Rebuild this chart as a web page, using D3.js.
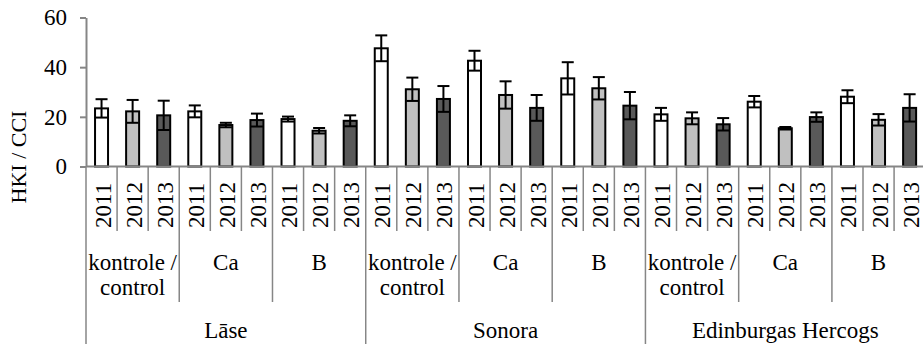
<!DOCTYPE html>
<html>
<head>
<meta charset="utf-8">
<script src="https://cdn.jsdelivr.net/npm/d3@7"></script>
<style>
  body { margin: 0; background: #fff; }
  svg { display: block; font-family: "Liberation Serif", "Times New Roman", serif; }
</style>
</head>
<body>
<svg width="923" height="344"></svg>
<script>
var varieties = ["Lāse", "Sonora", "Edinburgas Hercogs"];
var treatments = [["kontrole /", "control"], ["Ca"], ["B"]];
var years = ["2011", "2012", "2013"];
var yTicks = [0, 20, 40, 60];

// values per variety x treatment, one array per year
var val2011 = [23.4, 22.2, 19.1, 47.6, 42.6, 35.5, 21.0, 26.1, 28.1];
var err2011 = [3.7, 2.4, 1.0, 5.2, 4.0, 6.5, 2.6, 2.3, 2.6];
var val2012 = [22.2, 16.7, 14.4, 31.1, 28.8, 31.5, 19.4, 15.4, 18.8];
var err2012 = [4.6, 0.9, 1.1, 4.7, 5.5, 4.5, 2.4, 0.5, 2.3];
var val2013 = [20.6, 18.7, 18.4, 27.2, 23.6, 24.5, 17.0, 19.9, 23.6];
var err2013 = [5.9, 2.6, 2.2, 5.2, 5.2, 5.5, 2.5, 1.9, 5.5];

var fills = ["#ffffff", "#c0c0c0", "#595959"];
var seriesVals = [val2011, val2012, val2013];
var seriesErr = [err2011, err2012, err2013];

var data = [];
for (var g = 0; g < 9; g++) {
  for (var s = 0; s < 3; s++) {
    data.push({idx: g * 3 + s, year: years[s], value: seriesVals[s][g], err: seriesErr[s][g], fill: fills[s]});
  }
}

var svg = d3.select("svg");
var plotLeft = 86, plotBase = 166.5, plotTop = 17.5, band = 31.08;
var axisColor = "#868686";
var fontSize = "23px";

var x = d3.scaleBand()
    .domain(d3.range(27))
    .range([plotLeft, plotLeft + 27 * band]);

var y = d3.scaleLinear()
    .domain([0, 60])
    .range([plotBase, plotTop]);

// y axis
var yAxis = svg.append("g")
    .attr("transform", "translate(" + plotLeft + ",0)")
    .call(d3.axisLeft(y).tickValues(yTicks).tickSize(6).tickSizeOuter(0).tickPadding(13));
yAxis.select(".domain").attr("stroke", axisColor).attr("stroke-width", 2);
yAxis.selectAll(".tick line").attr("stroke", axisColor).attr("stroke-width", 2);
yAxis.selectAll(".tick text")
    .attr("fill", "#000")
    .style("font-family", "Liberation Serif, Times New Roman, serif")
    .style("font-size", fontSize);

svg.append("text")
    .attr("transform", "translate(26,157) rotate(-90)")
    .attr("text-anchor", "middle")
    .style("font-size", "22px")
    .text("HKI / CCI");

// bars
var bw = 13;
svg.selectAll(".bar")
  .data(data)
  .enter().append("rect")
    .attr("class", "bar")
    .attr("x", function(d) { return x(d.idx) + band / 2 - bw / 2; })
    .attr("y", function(d) { return y(d.value); })
    .attr("width", bw)
    .attr("height", function(d) { return plotBase - y(d.value); })
    .attr("fill", function(d) { return d.fill; })
    .attr("stroke", "#000")
    .attr("stroke-width", 2);

// error bars
var cap = 12;
var eb = svg.selectAll(".err")
  .data(data)
  .enter().append("g")
    .attr("class", "err")
    .attr("stroke", "#000")
    .attr("stroke-width", 2);
eb.append("line")
    .attr("x1", function(d) { return x(d.idx) + band / 2; })
    .attr("x2", function(d) { return x(d.idx) + band / 2; })
    .attr("y1", function(d) { return y(d.value - d.err); })
    .attr("y2", function(d) { return y(d.value + d.err); });
eb.append("line")
    .attr("x1", function(d) { return x(d.idx) + band / 2 - cap / 2; })
    .attr("x2", function(d) { return x(d.idx) + band / 2 + cap / 2; })
    .attr("y1", function(d) { return y(d.value + d.err); })
    .attr("y2", function(d) { return y(d.value + d.err); });
eb.append("line")
    .attr("x1", function(d) { return x(d.idx) + band / 2 - cap / 2; })
    .attr("x2", function(d) { return x(d.idx) + band / 2 + cap / 2; })
    .attr("y1", function(d) { return y(d.value - d.err); })
    .attr("y2", function(d) { return y(d.value - d.err); });

// x baseline
svg.append("line")
    .attr("x1", plotLeft).attr("x2", plotLeft + 27 * band)
    .attr("y1", plotBase).attr("y2", plotBase)
    .attr("stroke", axisColor).attr("stroke-width", 2);

// category separators
var bounds = d3.range(28);
svg.selectAll(".sep")
  .data(bounds)
  .enter().append("line")
    .attr("class", "sep")
    .attr("x1", function(i) { return plotLeft + i * band; })
    .attr("x2", function(i) { return plotLeft + i * band; })
    .attr("y1", plotBase)
    .attr("y2", function(i) { return i % 9 === 0 ? 344 : (i % 3 === 0 ? 302 : 231); })
    .attr("stroke", axisColor)
    .attr("stroke-width", 1.5);

// year labels
svg.selectAll(".year")
  .data(data)
  .enter().append("text")
    .attr("class", "year")
    .attr("transform", function(d) { return "translate(" + (x(d.idx) + band / 2 + 9) + ",228) rotate(-90)"; })
    .style("font-size", fontSize)
    .text(function(d) { return d.year; });

// treatment labels
for (var t = 0; t < 9; t++) {
  var cx = plotLeft + (t * 3 + 1.5) * band;
  var lines = treatments[t % 3];
  lines.forEach(function(l, k) {
    svg.append("text")
        .attr("x", cx)
        .attr("y", 270 + k * 25)
        .attr("text-anchor", "middle")
        .style("font-size", fontSize)
        .text(l);
  });
}

// variety labels
varieties.forEach(function(v, i) {
  svg.append("text")
      .attr("x", plotLeft + (i * 9 + 4.5) * band)
      .attr("y", 338)
      .attr("text-anchor", "middle")
      .style("font-size", fontSize)
      .text(v);
});
</script>
</body>
</html>
